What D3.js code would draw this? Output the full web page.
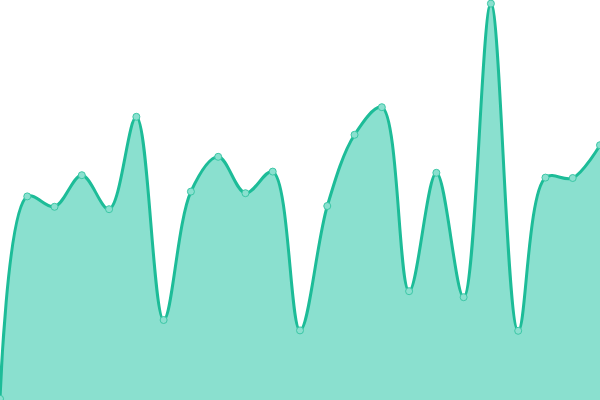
<!DOCTYPE html>
<html>
<head>
<meta charset="utf-8">
<script src="https://cdn.jsdelivr.net/npm/d3@7"></script>
<style>
    html, body { margin: 0; padding: 0; background: #fff; }
    svg { display: block; }
</style>
</head>
<body>
<svg id="chart"></svg>
<script>
// values, one per point
const labels = d3.range(23).map(i => "P" + (i + 1));
const values = [0.3, 50.9, 48.3, 56.2, 47.7, 70.8, 20.0, 52.1, 60.8, 51.7, 57.1, 17.4,
    48.5, 66.3, 73.2, 27.2, 56.8, 25.7, 99.1, 17.3, 55.6, 55.5, 63.7];

const width = 600;
const height = 400;

const data = labels.map((label, i) => ({ label, value: values[i] }));

const xScale = d3.scalePoint()
    .domain(labels)
    .range([0, width]);

const yScale = d3.scaleLinear()
    .domain([0, 100])
    .range([height, 0]);

const svg = d3.select("#chart")
    .attr("width", width)
    .attr("height", height);

const area = d3.area()
    .x(d => xScale(d.label))
    .y0(height)
    .y1(d => yScale(d.value))
    .curve(d3.curveCatmullRom);

const line = d3.line()
    .x(d => xScale(d.label))
    .y(d => yScale(d.value))
    .curve(d3.curveCatmullRom);

// filled area under the curve
svg.append("path")
    .datum(data)
    .attr("d", area)
    .attr("fill", "#8ae0cf");

svg.append("path")
    .datum(data)
    .attr("d", line)
    .attr("fill", "none")
    .attr("stroke", "#1dbc98")
    .attr("stroke-width", 3);

// point markers
svg.selectAll("circle")
    .data(data)
    .enter()
    .append("circle")
        .attr("cx", d => xScale(d.label))
        .attr("cy", d => yScale(d.value))
        .attr("r", 3.5)
        .attr("fill", "#8ae0cf")
        .attr("stroke", "#3cc7a6")
        .attr("stroke-width", 1);
</script>
</body>
</html>
